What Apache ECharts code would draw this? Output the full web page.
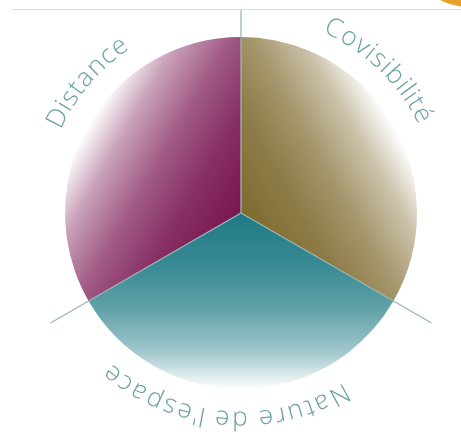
<!DOCTYPE html>
<html>
<head>
<meta charset="utf-8">
<script src="https://cdn.jsdelivr.net/npm/echarts@6/dist/echarts.min.js"></script>
<style>
  html, body { margin: 0; padding: 0; background: #fff; }
  #chart { width: 461px; height: 441px; }
</style>
</head>
<body>
<div id="chart"></div>
<script>
// data: three equal parts, clockwise from the top
const categories = ['Covisibilité', "Nature de l'espace", 'Distance'];
const values = [1, 1, 1];
const darkColors = ['#7f6a2f', '#1e7a84', '#781550'];

// label arcs: angle of first and last letter (degrees, counterclockwise from 3 o'clock)
const labelArcs = {
    'Covisibilité': [63.4, 28.5],
    "Nature de l'espace": [298.5, 231.4],
    'Distance': [152.6, 126.2]
};

const cx = 241, cy = 213, R = 176;
const textR = 206;
const font = '300 26px "Open Sans"';
const textColor = '#69a1a3';
const lineColor = '#98b7b3';

const chart = echarts.init(document.getElementById('chart'));

const rad = d => d * Math.PI / 180;

// blend a hex colour towards white
function fade(hex, k) {
    const n = parseInt(hex.slice(1), 16);
    const ch = [(n >> 16) & 255, (n >> 8) & 255, n & 255].map(c => Math.round(c + (255 - c) * k));
    return 'rgb(' + ch.join(',') + ')';
}

// bisector of each slice, pie starts at 90deg and runs clockwise
const bisectors = values.map((v, i) => {
    const total = values.reduce((a, b) => a + b, 0);
    const before = values.slice(0, i).reduce((a, b) => a + b, 0);
    return 90 - (before + v / 2) / total * 360;
});

const pieData = categories.map((name, i) => {
    const a = rad(bisectors[i]);
    const c = darkColors[i];
    return {
        name: name,
        value: values[i],
        itemStyle: {
            color: {
                type: 'linear',
                global: true,
                x: cx, y: cy,
                x2: cx + R * Math.cos(a), y2: cy - R * Math.sin(a),
                colorStops: [
                    { offset: 0, color: c },
                    { offset: 0.3, color: fade(c, 0.12) },
                    { offset: 0.55, color: fade(c, 0.3) },
                    { offset: 0.8, color: fade(c, 0.6) },
                    { offset: 1, color: '#ffffff' }
                ]
            }
        }
    };
});

// curved labels, one text element per letter
const measure = document.createElement('canvas').getContext('2d');
measure.font = font;

function arcText(str, a0, a1) {
    const chars = Array.from(str);
    const widths = chars.map(c => measure.measureText(c).width);
    const centers = [];
    let acc = 0;
    widths.forEach(w => { centers.push(acc + w / 2); acc += w; });
    const span = centers[centers.length - 1] - centers[0];
    return chars.map((c, i) => {
        const t = (centers[i] - centers[0]) / span;
        const ang = a0 + (a1 - a0) * t;
        return {
            type: 'text',
            x: cx + textR * Math.cos(rad(ang)),
            y: cy - textR * Math.sin(rad(ang)),
            rotation: rad(ang - 90),
            silent: true,
            z: 10,
            style: {
                text: c,
                font: font,
                fill: textColor,
                align: 'center',
                verticalAlign: 'middle'
            }
        };
    });
}

const graphics = [];

// top rule and orange corner mark
graphics.push({
    type: 'line',
    shape: { x1: 12, y1: 9.5, x2: 461, y2: 9.5 },
    style: { stroke: '#dcdcdc', lineWidth: 1 },
    z: 5
});
graphics.push({
    type: 'circle',
    shape: { cx: 470, cy: -60, r: 67 },
    style: { fill: '#e9a02b' },
    z: 6
});

// radial separators between the parts
const boundaries = [90, -30, -150];
boundaries.forEach(b => {
    const len = b === 90 ? cy - 10 : 220;
    graphics.push({
        type: 'line',
        shape: {
            x1: cx, y1: cy,
            x2: cx + len * Math.cos(rad(b)), y2: cy - len * Math.sin(rad(b))
        },
        style: { stroke: lineColor, lineWidth: 1.3 },
        z: 8
    });
});

categories.forEach(name => {
    const [a0, a1] = labelArcs[name];
    arcText(name, a0, a1).forEach(g => graphics.push(g));
});

chart.setOption({
    animation: false,
    series: [
        {
            type: 'pie',
            center: [cx, cy],
            radius: [0, R],
            startAngle: 90,
            clockwise: true,
            silent: true,
            label: { show: false },
            labelLine: { show: false },
            itemStyle: { borderWidth: 0 },
            data: pieData
        }
    ],
    graphic: graphics
});
</script>
</body>
</html>
